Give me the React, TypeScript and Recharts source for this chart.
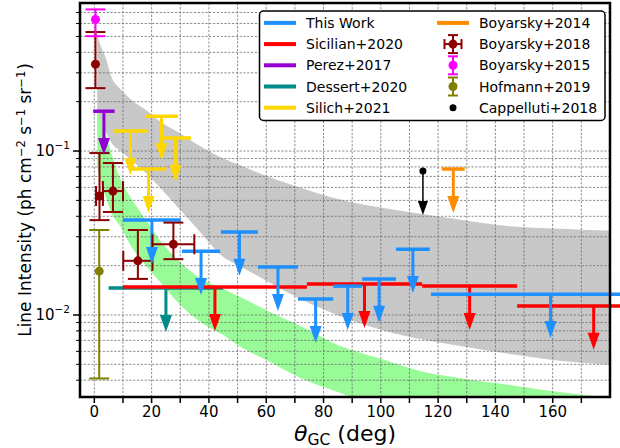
import React from "react";
import { ComposedChart, Area, Scatter, ErrorBar, XAxis, YAxis, ReferenceLine } from "recharts";

// shaded model bands, sampled along theta_GC (deg)
const bandTheta = [1, 2, 4, 6, 9, 13, 18, 24, 30, 37, 45, 50, 60, 72, 85, 100, 115, 125, 145, 165, 182];
const grayLow = [0.14, 0.138, 0.13, 0.112, 0.1, 0.088, 0.0734, 0.057, 0.0437, 0.032, 0.0226, 0.0202, 0.0162, 0.0125, 0.00995, 0.00813, 0.00705, 0.00659, 0.00578, 0.0052, 0.00495];
const grayHigh = [0.52, 0.45, 0.37, 0.283, 0.24, 0.205, 0.178, 0.147, 0.128, 0.107, 0.09, 0.083, 0.0705, 0.0598, 0.051, 0.0452, 0.0412, 0.0388, 0.0348, 0.0334, 0.0325];
const greenLow = [0.08, 0.0665, 0.0525, 0.0419, 0.0349, 0.026, 0.02, 0.0152, 0.0115, 0.00906, 0.00755, 0.00656, 0.00532, 0.00413, 0.00339, 0.0027, 0.0023, 0.0021, 0.0018, 0.0016, 0.0015];
const greenHigh = [0.178, 0.16, 0.128, 0.096, 0.068, 0.051, 0.038, 0.027, 0.021, 0.0168, 0.0144, 0.0131, 0.0107, 0.00857, 0.00656, 0.0054, 0.00449, 0.00419, 0.00374, 0.00334, 0.0031];

// upper limits: angular bin edges (deg) and limit value
const twLo = [10, 30.6, 44.2, 57.1, 71.1, 83.4, 93.5, 105.3, 117.5];
const twHi = [30.2, 43.9, 57.1, 71.1, 83.4, 93.5, 105.3, 117.1, 201];
const twVal = [0.0379, 0.0245, 0.0321, 0.0196, 0.0125, 0.015, 0.0166, 0.0252, 0.0134];

const sicLo = [10, 74.2, 114.4, 147.6];
const sicHi = [74.2, 114.4, 147.6, 201];
const sicVal = [0.0148, 0.01545, 0.015, 0.01135];

const desLo = [5];
const desHi = [45];
const desVal = [0.0146];

const perLo = [-0.4];
const perHi = [7.1];
const perVal = [0.175];

const silLo = [6.5, 17.7, 22.9, 12.8];
const silHi = [18.7, 29.2, 33.8, 25.1];
const silVal = [0.1324, 0.163, 0.12, 0.0777];

const b14Lo = [121.3];
const b14Hi = [129.3];
const b14Val = [0.0777];

const capTheta = [114.7];
const capVal = [0.0755];

// detections with error bars
const b18Theta = [0.4, 1.8, 6.5, 15.2, 27.6];
const b18ThetaErr = [0, 1.2, 3.5, 5.1, 7.3];
const b18Val = [0.339, 0.0532, 0.057, 0.0214, 0.027];
const b18Low = [0.242, 0.0379, 0.0425, 0.0166, 0.0219];
const b18High = [0.532, 0.0972, 0.0845, 0.033, 0.0366];

const b15Theta = [0.4];
const b15Val = [0.635];
const b15Low = [0.502];
const b15High = [0.731];

const hofTheta = [1.7];
const hofVal = [0.0185];
const hofLow = [0.0041];
const hofHigh = [0.033];

const xTicks = [0, 10, 20, 30, 40, 50, 60, 70, 80, 90, 100, 110, 120, 130, 140, 150, 160, 170];
const xLabelTicks = [0, 20, 40, 60, 80, 100, 120, 140, 160];
const yTicks = [0.004, 0.005, 0.006, 0.007, 0.008, 0.009, 0.01, 0.02, 0.03, 0.04, 0.05, 0.06, 0.07, 0.08, 0.09, 0.1, 0.2, 0.3, 0.4, 0.5, 0.6, 0.7];

const legendLeft = ["This Work", "Sicilian+2020", "Perez+2017", "Dessert+2020", "Silich+2021"];
const legendRight = ["Boyarsky+2014", "Boyarsky+2018", "Boyarsky+2015", "Hofmann+2019", "Cappelluti+2018"];

const C = {
  tw: "#1e90ff",
  sic: "#ff0000",
  per: "#9400d3",
  des: "#008b8b",
  sil: "#ffd700",
  b14: "#ff8c00",
  b18: "#8b0000",
  b15: "#ff00ff",
  hof: "#808000",
  cap: "#000000",
};
const legendLeftColors = [C.tw, C.sic, C.per, C.des, C.sil];

const FONT = "'DejaVu Sans', Verdana, sans-serif";
const ARROW_TIP = 0.54; // arrow tip relative to the limit
const STEM_END = 0.6;

const bandRows = bandTheta.map((x, i) => ({ x, gray: [grayLow[i], grayHigh[i]], green: [greenLow[i], greenHigh[i]] }));

const limitRows = (lo: number[], hi: number[], val: number[]) =>
  lo.map((l, i) => {
    const c = (l + hi[i]) / 2;
    return { x: c, y: val[i], xe: [c - l, hi[i] - c], ye: [val[i] * (1 - STEM_END), 0] };
  });
const tipRows = (xs: number[], val: number[]) => xs.map((x, i) => ({ x, y: val[i] * ARROW_TIP }));
const mids = (lo: number[], hi: number[]) => lo.map((l, i) => (l + hi[i]) / 2);

const pointRows = (xs: number[], val: number[], low: number[], high: number[], xerr?: number[]) =>
  xs.map((x, i) => ({ x, y: val[i], ye: [val[i] - low[i], high[i] - val[i]], xe: xerr ? xerr[i] : 0 }));

const hidden = () => <g />;
const arrowHead = (color: string, w: number, h: number) => (p: any) =>
  <path d={`M${p.cx - w / 2},${p.cy - h} L${p.cx + w / 2},${p.cy - h} L${p.cx},${p.cy} Z`} fill={color} />;
const dot = (color: string, r: number) => (p: any) => <circle cx={p.cx} cy={p.cy} r={r} fill={color} />;

function limitSeries(key: string, lo: number[], hi: number[], val: number[], color: string) {
  return [
    <Scatter key={key + "-bar"} data={limitRows(lo, hi, val)} dataKey="y" shape={hidden} isAnimationActive={false}>
      <ErrorBar dataKey="xe" direction="x" width={0} stroke={color} strokeWidth={3.5} isAnimationActive={false} />
      <ErrorBar dataKey="ye" direction="y" width={0} stroke={color} strokeWidth={3} isAnimationActive={false} />
    </Scatter>,
    <Scatter key={key + "-tip"} data={tipRows(mids(lo, hi), val)} dataKey="y" shape={arrowHead(color, 12, 17)} isAnimationActive={false} />,
  ];
}

function XTick(props: any) {
  const { x, y, payload } = props;
  const v = payload.value;
  return (
    <g>
      <line x1={x} x2={x} y1={y + 1} y2={y + 6} stroke="#000" strokeWidth={1.5} />
      {xLabelTicks.includes(v) && (
        <text x={x} y={y + 20} textAnchor="middle" fontSize={15} fontFamily={FONT} fill="#000">
          {v}
        </text>
      )}
    </g>
  );
}

function YTick(props: any) {
  const { x, y, payload } = props;
  const v = payload.value;
  const e = Math.log10(v);
  const major = Math.abs(e - Math.round(e)) < 1e-6;
  return (
    <g>
      <line x1={x - 1} x2={x - (major ? 7 : 4)} y1={y} y2={y} stroke="#000" strokeWidth={major ? 1.5 : 1} />
      {major && (
        <text x={x - 10} y={y + 5} textAnchor="end" fontSize={15} fontFamily={FONT} fill="#000">
          10<tspan dy={-7} fontSize={10.5}>{"\u2212" + Math.abs(Math.round(e))}</tspan>
        </text>
      )}
    </g>
  );
}

function LegendBox() {
  const rowY = (i: number) => 22.9 + i * 21.2;
  return (
    <g fontFamily={FONT} fontSize={14}>
      <rect x={259.5} y={11} width={345.5} height={109.5} rx={4} fill="#fff" stroke="#000" strokeWidth={1.5} />
      {legendLeft.map((name, i) => (
        <g key={name}>
          <line x1={264} x2={296} y1={rowY(i)} y2={rowY(i)} stroke={legendLeftColors[i]} strokeWidth={4} />
          <text x={306} y={rowY(i) + 5} fill="#000">{name}</text>
        </g>
      ))}
      {legendRight.map((name, i) => (
        <text key={name} x={479} y={rowY(i) + 5} fill="#000">{name}</text>
      ))}
      <line x1={437} x2={469} y1={rowY(0)} y2={rowY(0)} stroke={C.b14} strokeWidth={4} />
      <g stroke={C.b18} strokeWidth={2}>
        <line x1={453} x2={453} y1={rowY(1) - 9} y2={rowY(1) + 9} />
        <line x1={448} x2={458} y1={rowY(1) - 9} y2={rowY(1) - 9} />
        <line x1={448} x2={458} y1={rowY(1) + 9} y2={rowY(1) + 9} />
        <line x1={444.5} x2={461.5} y1={rowY(1)} y2={rowY(1)} />
        <line x1={444.5} x2={444.5} y1={rowY(1) - 5} y2={rowY(1) + 5} />
        <line x1={461.5} x2={461.5} y1={rowY(1) - 5} y2={rowY(1) + 5} />
      </g>
      <circle cx={453} cy={rowY(1)} r={4.5} fill={C.b18} />
      {[C.b15, C.hof].map((col, k) => (
        <g key={col} stroke={col} strokeWidth={2}>
          <line x1={453} x2={453} y1={rowY(2 + k) - 9} y2={rowY(2 + k) + 9} />
          <line x1={448} x2={458} y1={rowY(2 + k) - 9} y2={rowY(2 + k) - 9} />
          <line x1={448} x2={458} y1={rowY(2 + k) + 9} y2={rowY(2 + k) + 9} />
          <circle cx={453} cy={rowY(2 + k)} r={4.5} fill={col} stroke="none" />
        </g>
      ))}
      <circle cx={453} cy={rowY(4)} r={3.5} fill={C.cap} />
    </g>
  );
}

export default function App() {
  const sup = (t: string) => (
    <>
      <tspan dy={-6.5} fontSize={11.5}>{t}</tspan>
      <tspan dy={6.5}> </tspan>
    </>
  );
  return (
    <div style={{ position: "absolute", left: 0, top: 0, width: 620, height: 448, background: "#fff" }}>
      <ComposedChart width={620} height={448} data={bandRows} margin={{ top: 3, right: 10, bottom: 0, left: 0 }}>
        <XAxis
          type="number"
          dataKey="x"
          domain={[-5, 180]}
          allowDataOverflow
          ticks={xTicks}
          interval={0}
          tick={(p: any) => <XTick {...p} />}
          tickLine={false}
          axisLine={false}
          tickSize={0}
          tickMargin={0}
          height={51}
        />
        <YAxis
          type="number"
          dataKey="y"
          scale="log"
          domain={[0.00316, 0.8]}
          allowDataOverflow
          ticks={yTicks}
          interval={0}
          tick={(p: any) => <YTick {...p} />}
          tickLine={false}
          axisLine={false}
          tickSize={0}
          tickMargin={0}
          width={80}
        />
        <Area dataKey="gray" type="monotone" stroke="none" fill="#c8c8c8" fillOpacity={1} isAnimationActive={false} activeDot={false} />
        <Area dataKey="green" type="monotone" stroke="none" fill="#98fb98" fillOpacity={1} isAnimationActive={false} activeDot={false} />
        {xTicks.map((t) => (
          <ReferenceLine key={"gx" + t} x={t} stroke="#666" strokeOpacity={0.85} strokeWidth={0.9} strokeDasharray="2.2 1.6" />
        ))}
        {yTicks.map((t) => (
          <ReferenceLine key={"gy" + t} y={t} stroke="#666" strokeOpacity={0.85} strokeWidth={0.9} strokeDasharray="2.2 1.6" />
        ))}
        {limitSeries("des", desLo, desHi, desVal, C.des)}
        {limitSeries("sic", sicLo, sicHi, sicVal, C.sic)}
        {limitSeries("tw", twLo, twHi, twVal, C.tw)}
        {limitSeries("per", perLo, perHi, perVal, C.per)}
        {limitSeries("sil", silLo, silHi, silVal, C.sil)}
        {limitSeries("b14", b14Lo, b14Hi, b14Val, C.b14)}
        <Scatter
          data={capTheta.map((x, i) => ({ x, y: capVal[i], ye: [capVal[i] * (1 - STEM_END), 0] }))}
          dataKey="y"
          shape={dot(C.cap, 3.5)}
          isAnimationActive={false}
        >
          <ErrorBar dataKey="ye" direction="y" width={0} stroke={C.cap} strokeWidth={1.5} isAnimationActive={false} />
        </Scatter>
        <Scatter data={tipRows(capTheta, capVal)} dataKey="y" shape={arrowHead(C.cap, 10, 14)} isAnimationActive={false} />
        <Scatter data={pointRows(b18Theta, b18Val, b18Low, b18High, b18ThetaErr)} dataKey="y" shape={dot(C.b18, 4.5)} isAnimationActive={false}>
          <ErrorBar dataKey="xe" direction="x" width={10} stroke={C.b18} strokeWidth={2} isAnimationActive={false} />
          <ErrorBar dataKey="ye" direction="y" width={10} stroke={C.b18} strokeWidth={2} isAnimationActive={false} />
        </Scatter>
        <Scatter data={pointRows(b15Theta, b15Val, b15Low, b15High)} dataKey="y" shape={dot(C.b15, 4.5)} isAnimationActive={false}>
          <ErrorBar dataKey="ye" direction="y" width={10} stroke={C.b15} strokeWidth={2} isAnimationActive={false} />
        </Scatter>
        <Scatter data={pointRows(hofTheta, hofVal, hofLow, hofHigh)} dataKey="y" shape={dot(C.hof, 4.5)} isAnimationActive={false}>
          <ErrorBar dataKey="ye" direction="y" width={10} stroke={C.hof} strokeWidth={2} isAnimationActive={false} />
        </Scatter>
      </ComposedChart>
      <svg width={620} height={448} style={{ position: "absolute", left: 0, top: 0, pointerEvents: "none" }}>
        <rect x={80} y={3} width={530} height={394} fill="none" stroke="#000" strokeWidth={2.5} />
        <LegendBox />
        <text transform="translate(31,200) rotate(-90)" textAnchor="middle" fontSize={17} fontFamily={FONT} fill="#000">
          Line Intensity (ph cm{sup("\u22122")}s{sup("\u22121")}sr{sup("\u22121")}
          <tspan dx={-4.5}>)</tspan>
        </text>
        <text x={345} y={441} textAnchor="middle" fontSize={22} fontFamily={FONT} fill="#000">
          <tspan fontStyle="italic">θ</tspan>
          <tspan fontSize={15.5} dy={4}>GC</tspan>
          <tspan dy={-4}> (deg)</tspan>
        </text>
      </svg>
    </div>
  );
}
